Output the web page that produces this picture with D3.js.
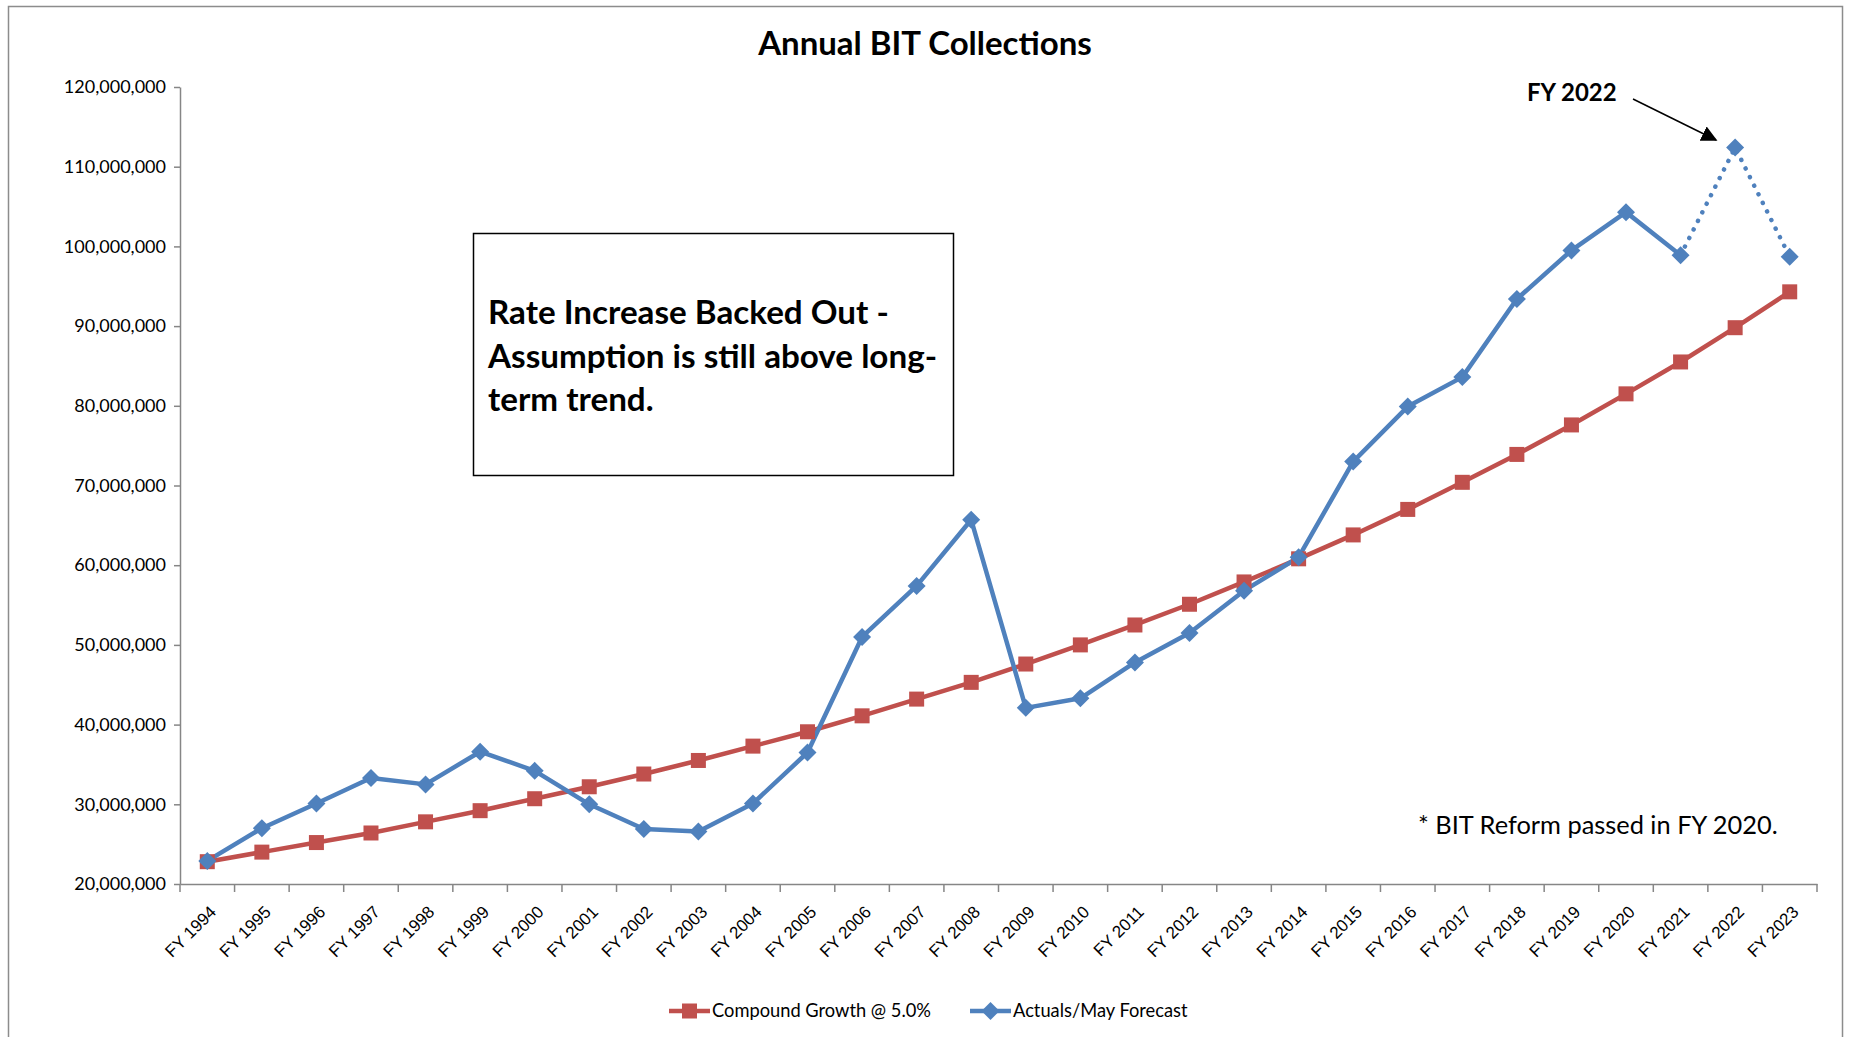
<!DOCTYPE html>
<html><head><meta charset="utf-8">
<script src="https://cdn.jsdelivr.net/npm/d3@7"></script>
<style>
html,body{margin:0;padding:0;background:#fff;}
svg{display:block;font-family:Lato,"Open Sans",sans-serif;}
</style></head>
<body>
<script>
const categories = ["FY 1994","FY 1995","FY 1996","FY 1997","FY 1998","FY 1999","FY 2000","FY 2001","FY 2002","FY 2003","FY 2004","FY 2005","FY 2006","FY 2007","FY 2008","FY 2009","FY 2010","FY 2011","FY 2012","FY 2013","FY 2014","FY 2015","FY 2016","FY 2017","FY 2018","FY 2019","FY 2020","FY 2021","FY 2022","FY 2023"];
const compoundGrowth = [22.8,24.0,25.2,26.4,27.8,29.2,30.7,32.2,33.8,35.5,37.3,39.1,41.1,43.2,45.3,47.6,50.0,52.5,55.1,57.9,60.8,63.8,67.0,70.4,73.9,77.6,81.5,85.5,89.8,94.3].map(v=>v*1e6);
const actuals = [22.9,27.0,30.1,33.3,32.5,36.6,34.2,30.0,26.9,26.6,30.1,36.5,51.0,57.4,65.7,42.1,43.3,47.8,51.5,56.8,61.0,73.0,79.9,83.6,93.4,99.5,104.3,98.9,112.4,98.7].map(v=>v*1e6);
const forecastStart = "FY 2021";
const yTicks = [20e6,30e6,40e6,50e6,60e6,70e6,80e6,90e6,100e6,110e6,120e6];
const title = "Annual BIT Collections";
const seriesNames = ["Compound Growth @ 5.0%","Actuals/May Forecast"];
const boxLines = ["Rate Increase Backed Out -","Assumption is still above long-","term trend."];
const footnote = "* BIT Reform passed in FY 2020.";
const calloutLabel = "FY 2022";

const W=1849,H=1037;
const RED="#C0504D", BLUE="#4F81BD", AX="#868686";
const m={left:180,right:W-1817,top:87,bottom:H-884};

const svg=d3.select("body").append("svg").attr("width",W).attr("height",H);
svg.append("defs").append("marker").attr("id","arr").attr("viewBox","0 0 10 10")
  .attr("refX",9).attr("refY",5).attr("markerWidth",16).attr("markerHeight",16).attr("orient","auto")
  .attr("markerUnits","userSpaceOnUse")
  .append("path").attr("d","M0,0 L10,5 L0,10 z").attr("fill","#000");

svg.append("rect").attr("x",8.5).attr("y",6.5).attr("width",1834).attr("height",1040)
  .attr("fill","#fff").attr("stroke","#8c8c8c").attr("stroke-width",1.5);

const x=d3.scaleBand().domain(categories).range([m.left,W-m.right]);
const y=d3.scaleLinear().domain([20e6,120e6]).range([H-m.bottom,m.top]);
const cx=d=>x(d)+x.bandwidth()/2;

svg.append("text").attr("x",925).attr("y",55).attr("text-anchor","middle")
  .attr("font-size",33).attr("font-weight","bold").attr("fill","#000").text(title);

// y axis
const ya=svg.append("g").attr("transform",`translate(${m.left},0)`)
  .call(d3.axisLeft(y).tickValues(yTicks).tickSize(6).tickSizeOuter(0).tickFormat(d3.format(",")).tickPadding(8));
ya.select(".domain").attr("stroke",AX).attr("stroke-width",1.5);
ya.selectAll(".tick line").attr("stroke",AX).attr("stroke-width",1.5);
ya.selectAll(".tick text").attr("font-size",18).attr("fill","#000").attr("font-family","Lato");

// x axis
const xa=svg.append("g").attr("transform",`translate(0,${H-m.bottom})`)
  .call(d3.axisBottom(x).tickSize(0).tickSizeOuter(0));
xa.select(".domain").attr("stroke",AX).attr("stroke-width",1.5);
xa.selectAll(".tick line").remove();
const bounds=categories.map(c=>x(c)).concat([W-m.right]);
xa.selectAll("line.bt").data(bounds).enter().append("line").attr("class","bt")
  .attr("x1",d=>d).attr("x2",d=>d).attr("y1",0).attr("y2",8).attr("stroke",AX).attr("stroke-width",1.5);
xa.selectAll(".tick text").attr("font-size",17).attr("fill","#000")
  .attr("text-anchor","end").attr("dy",0)
  .attr("transform","translate(10,29) rotate(-45)").attr("y",0).attr("x",0);

// lines
const line=d3.line().x(d=>cx(d.c)).y(d=>y(d.v));
const redData=categories.map((c,i)=>({c,v:compoundGrowth[i]}));
const blueData=categories.map((c,i)=>({c,v:actuals[i]}));
const fi=categories.indexOf(forecastStart);
svg.append("path").attr("d",line(redData)).attr("fill","none").attr("stroke",RED).attr("stroke-width",4.5);
svg.append("path").attr("d",line(blueData.slice(0,fi+1))).attr("fill","none").attr("stroke",BLUE).attr("stroke-width",4.5).attr("stroke-linejoin","round");
svg.append("path").attr("d",line(blueData.slice(fi))).attr("fill","none").attr("stroke",BLUE).attr("stroke-width",4.5)
  .attr("stroke-dasharray","0.1 9.5").attr("stroke-linecap","round");

const sq=15, dm=9;
svg.selectAll("rect.sq").data(redData).enter().append("rect").attr("class","sq")
  .attr("x",d=>cx(d.c)-sq/2).attr("y",d=>y(d.v)-sq/2).attr("width",sq).attr("height",sq).attr("fill",RED);
svg.selectAll("path.dm").data(blueData).enter().append("path").attr("class","dm")
  .attr("d",d=>{const px=cx(d.c),py=y(d.v);return `M${px},${py-dm}L${px+dm},${py}L${px},${py+dm}L${px-dm},${py}Z`;})
  .attr("fill",BLUE);

// text box
svg.append("rect").attr("x",473.5).attr("y",233.5).attr("width",480).attr("height",242)
  .attr("fill","#fff").attr("stroke","#000").attr("stroke-width",1.5);
svg.selectAll("text.bx").data(boxLines).enter().append("text").attr("class","bx")
  .attr("x",488).attr("y",(d,i)=>324+i*43.5).attr("font-size",33.2).attr("font-weight","bold").attr("fill","#000").text(d=>d);

// footnote
svg.append("text").attr("x",1418).attr("y",834).attr("font-size",25.4).attr("fill","#000").text(footnote);

// callout
svg.append("text").attr("x",1527).attr("y",101).attr("font-size",24).attr("font-weight","bold").attr("fill","#000").text(calloutLabel);
svg.append("line").attr("x1",1633).attr("y1",99).attr("x2",1716).attr("y2",140)
  .attr("stroke","#000").attr("stroke-width",1.5).attr("marker-end","url(#arr)");

// legend
const lg=svg.append("g").attr("transform","translate(0,1011)");
const items=[{n:seriesNames[0],c:RED,t:"sq",x0:669},{n:seriesNames[1],c:BLUE,t:"dm",x0:970}];
items.forEach(it=>{
  lg.append("line").attr("x1",it.x0).attr("x2",it.x0+41).attr("y1",0).attr("y2",0).attr("stroke",it.c).attr("stroke-width",4.5);
  const mx=it.x0+20.5;
  if(it.t==="sq") lg.append("rect").attr("x",mx-7.5).attr("y",-7.5).attr("width",15).attr("height",15).attr("fill",it.c);
  else lg.append("path").attr("d",`M${mx},-9L${mx+9},0L${mx},9L${mx-9},0Z`).attr("fill",it.c);
  lg.append("text").attr("x",it.x0+43).attr("y",6).attr("font-size",18.3).attr("fill","#000").text(it.n);
});
</script>
</body></html>
